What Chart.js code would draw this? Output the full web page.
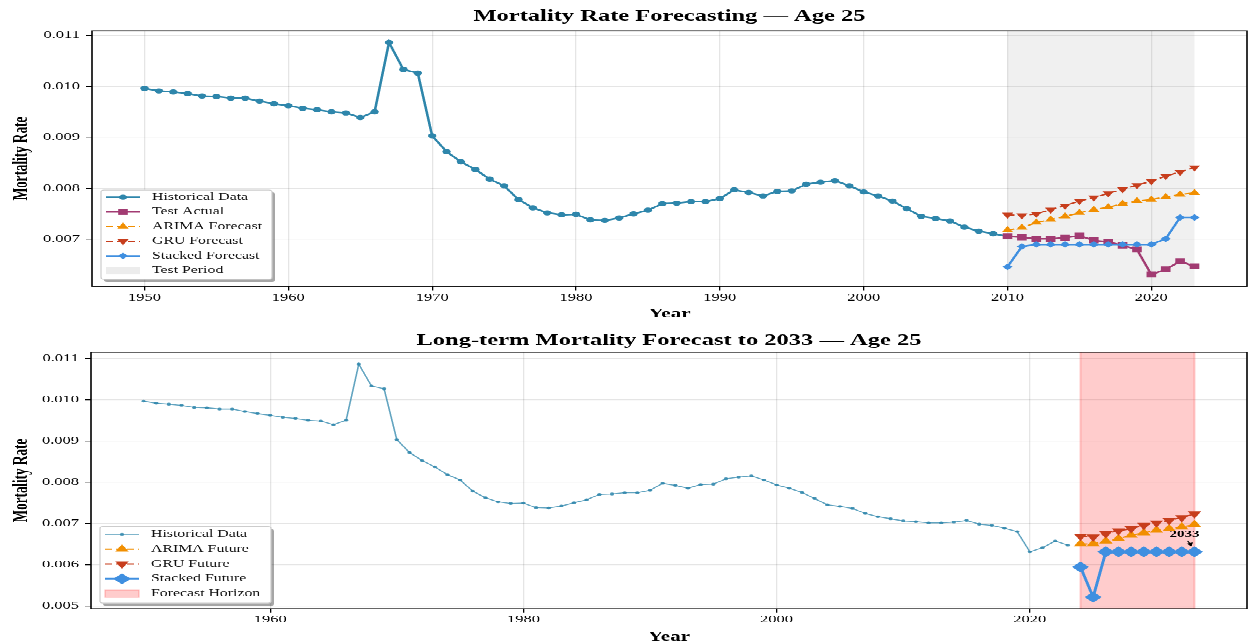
<!DOCTYPE html>
<html><head><meta charset="utf-8">
<script src="https://cdn.jsdelivr.net/npm/chart.js@4/dist/chart.umd.min.js"></script>
<style>
html,body{margin:0;padding:0;background:#fff;overflow:hidden;width:1248px;height:643px}
#wrap{width:1248px;height:1029px;transform:scaleY(0.62488);transform-origin:0 0}
canvas{display:block}
</style></head><body>
<div id="wrap"><canvas id="c1" width="1248" height="515"></canvas><canvas id="c2" width="1248" height="514"></canvas></div>
<script>
// ---------------- DATA ----------------
const histYears = [1950,1951,1952,1953,1954,1955,1956,1957,1958,1959,1960,1961,1962,1963,1964,1965,1966,1967,1968,1969,1970,1971,1972,1973,1974,1975,1976,1977,1978,1979,1980,1981,1982,1983,1984,1985,1986,1987,1988,1989,1990,1991,1992,1993,1994,1995,1996,1997,1998,1999,2000,2001,2002,2003,2004,2005,2006,2007,2008,2009];
const histValues = [0.00996,0.00991,0.00989,0.00986,0.00981,0.00980,0.00977,0.00977,0.00971,0.00966,0.00962,0.00957,0.00954,0.00950,0.00948,0.00939,0.00950,0.01086,0.01033,0.01026,0.00903,0.00872,0.00852,0.00837,0.00818,0.00805,0.00778,0.00762,0.00752,0.00748,0.00749,0.00738,0.00737,0.00742,0.00750,0.00757,0.00770,0.00771,0.00774,0.00774,0.00780,0.00797,0.00792,0.00785,0.00794,0.00795,0.00808,0.00812,0.00815,0.00805,0.00793,0.00785,0.00775,0.00760,0.00745,0.00741,0.00736,0.00724,0.00716,0.00711];
const testYears = [2010,2011,2012,2013,2014,2015,2016,2017,2018,2019,2020,2021,2022,2023];
const testActual = [0.00706,0.00704,0.00701,0.00701,0.00703,0.00707,0.00698,0.00695,0.00688,0.00680,0.00631,0.00641,0.00657,0.00647];
const arimaTest = [0.00718,0.00723,0.00733,0.00739,0.00745,0.00752,0.00758,0.00763,0.00770,0.00775,0.00778,0.00783,0.00788,0.00791];
const gruTest = [0.00748,0.00747,0.00750,0.00758,0.00766,0.00775,0.00782,0.00790,0.00798,0.00806,0.00814,0.00824,0.00832,0.00841];
const stackedTest = [0.00646,0.00686,0.00690,0.00690,0.00690,0.00690,0.00690,0.00690,0.00690,0.00690,0.00690,0.00701,0.00743,0.00743];
const futureYears = [2024,2025,2026,2027,2028,2029,2030,2031,2032,2033];
const arimaFuture = [0.00650,0.00650,0.00657,0.00663,0.00671,0.00677,0.00683,0.00687,0.00691,0.00697];
const gruFuture = [0.00669,0.00667,0.00675,0.00682,0.00687,0.00695,0.00701,0.00707,0.00714,0.00723];
const stackedFuture = [0.00594,0.00521,0.00631,0.00631,0.00631,0.00631,0.00631,0.00631,0.00631,0.00631];
const topXTicks = [1950,1960,1970,1980,1990,2000,2010,2020];
const topYTicks = [0.007,0.008,0.009,0.010,0.011];
const bottomXTicks = [1960,1980,2000,2020];
const bottomYTicks = [0.005,0.006,0.007,0.008,0.009,0.010,0.011];
const topTitle = 'Mortality Rate Forecasting \u2014 Age 25';
const bottomTitle = 'Long-term Mortality Forecast to 2033 \u2014 Age 25';

// ---------------- HELPERS ----------------
const FF = "'Liberation Serif','Times New Roman',serif";
const C_HIST = '#2E86AB', C_TEST = '#A23B72', C_ARIMA = '#F18F01', C_GRU = '#C73E1D', C_STACK = '#3F8FE0';
const pts = (xs, ys) => xs.map((x, i) => ({x: x, y: ys[i]}));

function drawMarker(ctx, style, radius, rotation, x, y) {
  if (Chart.helpers && Chart.helpers.drawPoint) {
    Chart.helpers.drawPoint(ctx, {pointStyle: style, radius: radius, rotation: rotation || 0, borderWidth: 0}, x, y);
  } else {
    ctx.beginPath(); ctx.arc(x, y, radius, 0, Math.PI * 2); ctx.fill();
  }
}
function rr(ctx, x, y, w, h, r) {
  ctx.beginPath();
  ctx.moveTo(x + r, y); ctx.lineTo(x + w - r, y); ctx.quadraticCurveTo(x + w, y, x + w, y + r);
  ctx.lineTo(x + w, y + h - r); ctx.quadraticCurveTo(x + w, y + h, x + w - r, y + h);
  ctx.lineTo(x + r, y + h); ctx.quadraticCurveTo(x, y + h, x, y + h - r);
  ctx.lineTo(x, y + r); ctx.quadraticCurveTo(x, y, x + r, y); ctx.closePath();
}

function makePlugin(cfg) {
  return {
    id: 'custom_' + cfg.id,
    beforeDatasetsDraw(chart) {
      const ctx = chart.ctx, a = chart.chartArea, xs = chart.scales.x;
      const x1 = xs.getPixelForValue(cfg.shade[0]), x2 = xs.getPixelForValue(cfg.shade[1]);
      ctx.save();
      ctx.beginPath(); ctx.rect(a.left, a.top, a.right - a.left, a.bottom - a.top); ctx.clip();
      ctx.fillStyle = cfg.shadeFill;
      ctx.fillRect(x1, a.top, x2 - x1, a.bottom - a.top);
      if (cfg.shadeEdge) {
        ctx.strokeStyle = cfg.shadeEdge; ctx.lineWidth = 2;
        ctx.strokeRect(x1, a.top - 2, x2 - x1, a.bottom - a.top + 4);
      }
      ctx.restore();
    },
    afterDatasetsDraw(chart) {
      const ctx = chart.ctx, a = chart.chartArea;
      ctx.save();
      ctx.strokeStyle = '#000'; ctx.lineWidth = 1.6;
      ctx.strokeRect(a.left, a.top, a.right - a.left, a.bottom - a.top);
      ctx.restore();
    },
    afterDraw(chart) {
      const ctx = chart.ctx, a = chart.chartArea, L = cfg.legend;
      ctx.save();
      const left = a.left + 9, top = a.bottom - L.gap - L.h;
      ctx.fillStyle = 'rgba(0,0,0,0.35)';
      rr(ctx, left + 3, top + 4, L.w, L.h, 3); ctx.fill();
      ctx.fillStyle = '#ffffff';
      rr(ctx, left, top, L.w, L.h, 3); ctx.fill();
      ctx.strokeStyle = '#cccccc'; ctx.lineWidth = 1.2; ctx.stroke();
      const sx1 = left + 5, sx2 = left + 39, sxm = (sx1 + sx2) / 2;
      cfg.legendItems.forEach((it, i) => {
        const y = top + L.first + i * L.step;
        if (it.patch) {
          ctx.fillStyle = it.patch; ctx.fillRect(sx1, y - 6, sx2 - sx1, 12);
          if (it.edge) { ctx.strokeStyle = it.edge; ctx.lineWidth = 1.2; ctx.strokeRect(sx1, y - 6, sx2 - sx1, 12); }
        } else {
          ctx.strokeStyle = it.color; ctx.lineWidth = it.lw; ctx.setLineDash(it.dash || []);
          ctx.beginPath(); ctx.moveTo(sx1, y); ctx.lineTo(sx2, y); ctx.stroke();
          ctx.setLineDash([]);
          ctx.fillStyle = it.color;
          drawMarker(ctx, it.style, it.r, it.rot, sxm, y);
        }
        ctx.fillStyle = '#111'; ctx.font = '15.8px ' + FF; ctx.textBaseline = 'middle'; ctx.textAlign = 'left';
        ctx.fillText(it.label, left + 51, y);
      });
      if (cfg.annotate) {
        const xs = chart.scales.x, ys = chart.scales.y;
        const px = xs.getPixelForValue(cfg.annotate.x), py = ys.getPixelForValue(cfg.annotate.y);
        ctx.fillStyle = '#000'; ctx.font = 'bold 15px ' + FF; ctx.textAlign = 'center'; ctx.textBaseline = 'middle';
        ctx.fillText(cfg.annotate.text, px - 10, py - 28);
        ctx.strokeStyle = '#000'; ctx.lineWidth = 1.3;
        ctx.beginPath(); ctx.moveTo(px - 7, py - 18); ctx.lineTo(px - 3, py - 9); ctx.stroke();
        ctx.beginPath(); ctx.moveTo(px - 3, py - 9); ctx.lineTo(px - 8, py - 13); ctx.lineTo(px - 1.5, py - 15); ctx.closePath();
        ctx.fill();
      }
      ctx.restore();
    }
  };
}

function makeOptions(o) {
  return {
    responsive: false, animation: false, devicePixelRatio: 1,
    events: [],
    layout: {autoPadding: false, padding: {left: 0, right: 1, top: 0, bottom: 0}},
    plugins: {
      legend: {display: false}, tooltip: {enabled: false},
      title: {display: true, fullSize: false, text: o.title, color: '#000', font: {family: FF, size: 24.5, weight: 'bold'}, padding: o.titlePad}
    },
    scales: {
      x: {
        type: 'linear', min: o.xmin, max: o.xmax,
        afterBuildTicks: s => { s.ticks = o.xTicks.map(v => ({value: v})); },
        afterFit: s => { s.height = o.xH; },
        grid: {color: 'rgba(0,0,0,0.1)', lineWidth: 1.3, tickColor: '#000', tickLength: 6.5, tickWidth: 1.3},
        border: {display: false},
        ticks: {callback: v => String(v), color: '#000', font: {family: FF, size: 16.5}, padding: o.xTickPad, maxRotation: 0, autoSkip: false},
        title: {display: true, text: 'Year', color: '#000', font: {family: FF, size: 21, weight: 'bold'}, padding: {top: 0, bottom: o.xTitlePad}}
      },
      y: {
        type: 'linear', min: o.ymin, max: o.ymax,
        afterBuildTicks: s => { s.ticks = o.yTicks.map(v => ({value: v})); },
        afterFit: s => { s.width = o.yW; },
        grid: {color: 'rgba(0,0,0,0.1)', lineWidth: 1.3, tickColor: '#000', tickLength: 6, tickWidth: 1.3},
        border: {display: false},
        ticks: {callback: v => Number(v).toFixed(3), color: '#000', font: {family: FF, size: 16.5}, padding: 6, autoSkip: false},
        title: {display: true, text: 'Mortality Rate', color: '#000', font: {family: FF, size: 21, weight: 'bold'}, padding: {top: 9, bottom: 0}}
      }
    }
  };
}

// ---------------- TOP CHART ----------------
const topHist = pts(histYears.concat([testYears[0]]), histValues.concat([testActual[0]]));
new Chart(document.getElementById('c1'), {
  type: 'line',
  data: {datasets: [
    {label: 'Historical Data', data: topHist, borderColor: C_HIST, backgroundColor: C_HIST, borderWidth: 2.6, pointRadius: 4.2, pointStyle: 'circle', pointBorderWidth: 0, tension: 0, order: 0},
    {label: 'Test Actual', data: pts(testYears, testActual), borderColor: C_TEST, backgroundColor: C_TEST, borderWidth: 2.6, pointRadius: 6.8, pointStyle: 'rect', pointBorderWidth: 0, tension: 0, order: -1},
    {label: 'ARIMA Forecast', data: pts(testYears, arimaTest), borderColor: C_ARIMA, backgroundColor: C_ARIMA, borderWidth: 2, borderDash: [7, 4], pointRadius: 6.5, pointStyle: 'triangle', pointBorderWidth: 0, tension: 0, order: -2},
    {label: 'GRU Forecast', data: pts(testYears, gruTest), borderColor: C_GRU, backgroundColor: C_GRU, borderWidth: 2, borderDash: [7, 4], pointRadius: 6.5, pointStyle: 'triangle', pointRotation: 180, pointBorderWidth: 0, tension: 0, order: -3},
    {label: 'Stacked Forecast', data: pts(testYears, stackedTest), borderColor: C_STACK, backgroundColor: C_STACK, borderWidth: 2.6, pointRadius: 5.2, pointStyle: 'rectRot', pointBorderWidth: 0, tension: 0, order: -4}
  ]},
  options: makeOptions({title: topTitle, titlePad: {top: 12.3, bottom: 7.6}, xmin: 1946.35, xmax: 2026.65, xTicks: topXTicks, xH: 56.9, xTickPad: 2.3, xTitlePad: 0, ymin: 0.00608, ymax: 0.01109, yTicks: topYTicks, yW: 92}),
  plugins: [makePlugin({
    id: 'top', shade: [testYears[0], testYears[testYears.length - 1]], shadeFill: 'rgba(128,128,128,0.12)',
    legend: {w: 171, h: 143, gap: 11, first: 11.5, step: 23.5},
    legendItems: [
      {label: 'Historical Data', color: C_HIST, lw: 2.6, style: 'circle', r: 4.2},
      {label: 'Test Actual', color: C_TEST, lw: 2.6, style: 'rect', r: 6.8},
      {label: 'ARIMA Forecast', color: C_ARIMA, lw: 2, dash: [7, 4], style: 'triangle', r: 6.5},
      {label: 'GRU Forecast', color: C_GRU, lw: 2, dash: [7, 4], style: 'triangle', r: 6.5, rot: 180},
      {label: 'Stacked Forecast', color: C_STACK, lw: 2.6, style: 'rectRot', r: 5.2},
      {label: 'Test Period', patch: 'rgba(128,128,128,0.15)'}
    ]
  })]
});

// ---------------- BOTTOM CHART ----------------
const fullHist = pts(histYears.concat(testYears), histValues.concat(testActual));
const lastIdx = futureYears.length - 1;
new Chart(document.getElementById('c2'), {
  type: 'line',
  data: {datasets: [
    {label: 'Historical Data', data: fullHist, borderColor: 'rgba(46,134,171,0.75)', backgroundColor: 'rgba(46,134,171,0.85)', borderWidth: 1.6, pointRadius: 2.2, pointStyle: 'circle', pointBorderWidth: 0, tension: 0, order: 0},
    {label: 'ARIMA Future', data: pts(futureYears, arimaFuture), borderColor: C_ARIMA, backgroundColor: C_ARIMA, borderWidth: 2, borderDash: [7, 4], pointRadius: 7.8, pointStyle: 'triangle', pointBorderWidth: 0, tension: 0, order: -1},
    {label: 'GRU Future', data: pts(futureYears, gruFuture), borderColor: C_GRU, backgroundColor: C_GRU, borderWidth: 2, borderDash: [7, 4], pointRadius: 7.8, pointStyle: 'triangle', pointRotation: 180, pointBorderWidth: 0, tension: 0, order: -2},
    {label: 'Stacked Future', data: pts(futureYears, stackedFuture), borderColor: C_STACK, backgroundColor: C_STACK, borderWidth: 3, pointRadius: 8.7, pointStyle: 'rectRot', pointBorderWidth: 0, tension: 0, order: -3}
  ]},
  options: makeOptions({title: bottomTitle, titlePad: {top: 15.7, bottom: 3.7}, xmin: 1945.85, xmax: 2037.15, xTicks: bottomXTicks, xH: 54.8, xTickPad: 1.2, xTitlePad: -3, ymin: 0.004927, ymax: 0.011146, yTicks: bottomYTicks, yW: 91}),
  plugins: [makePlugin({
    id: 'bottom', shade: [futureYears[0], futureYears[lastIdx]], shadeFill: 'rgba(255,0,0,0.2)', shadeEdge: 'rgba(255,60,60,0.25)',
    legend: {w: 171, h: 122.5, gap: 9, first: 12.2, step: 23.8},
    legendItems: [
      {label: 'Historical Data', color: 'rgba(46,134,171,0.8)', lw: 1.6, style: 'circle', r: 2.2},
      {label: 'ARIMA Future', color: C_ARIMA, lw: 2, dash: [7, 4], style: 'triangle', r: 7.8},
      {label: 'GRU Future', color: C_GRU, lw: 2, dash: [7, 4], style: 'triangle', r: 7.8, rot: 180},
      {label: 'Stacked Future', color: C_STACK, lw: 3, style: 'rectRot', r: 8.7},
      {label: 'Forecast Horizon', patch: 'rgba(255,0,0,0.2)', edge: 'rgba(255,60,60,0.3)'}
    ],
    annotate: {x: futureYears[lastIdx], y: stackedFuture[lastIdx], text: String(futureYears[lastIdx])}
  })]
});
</script>
</body></html>
